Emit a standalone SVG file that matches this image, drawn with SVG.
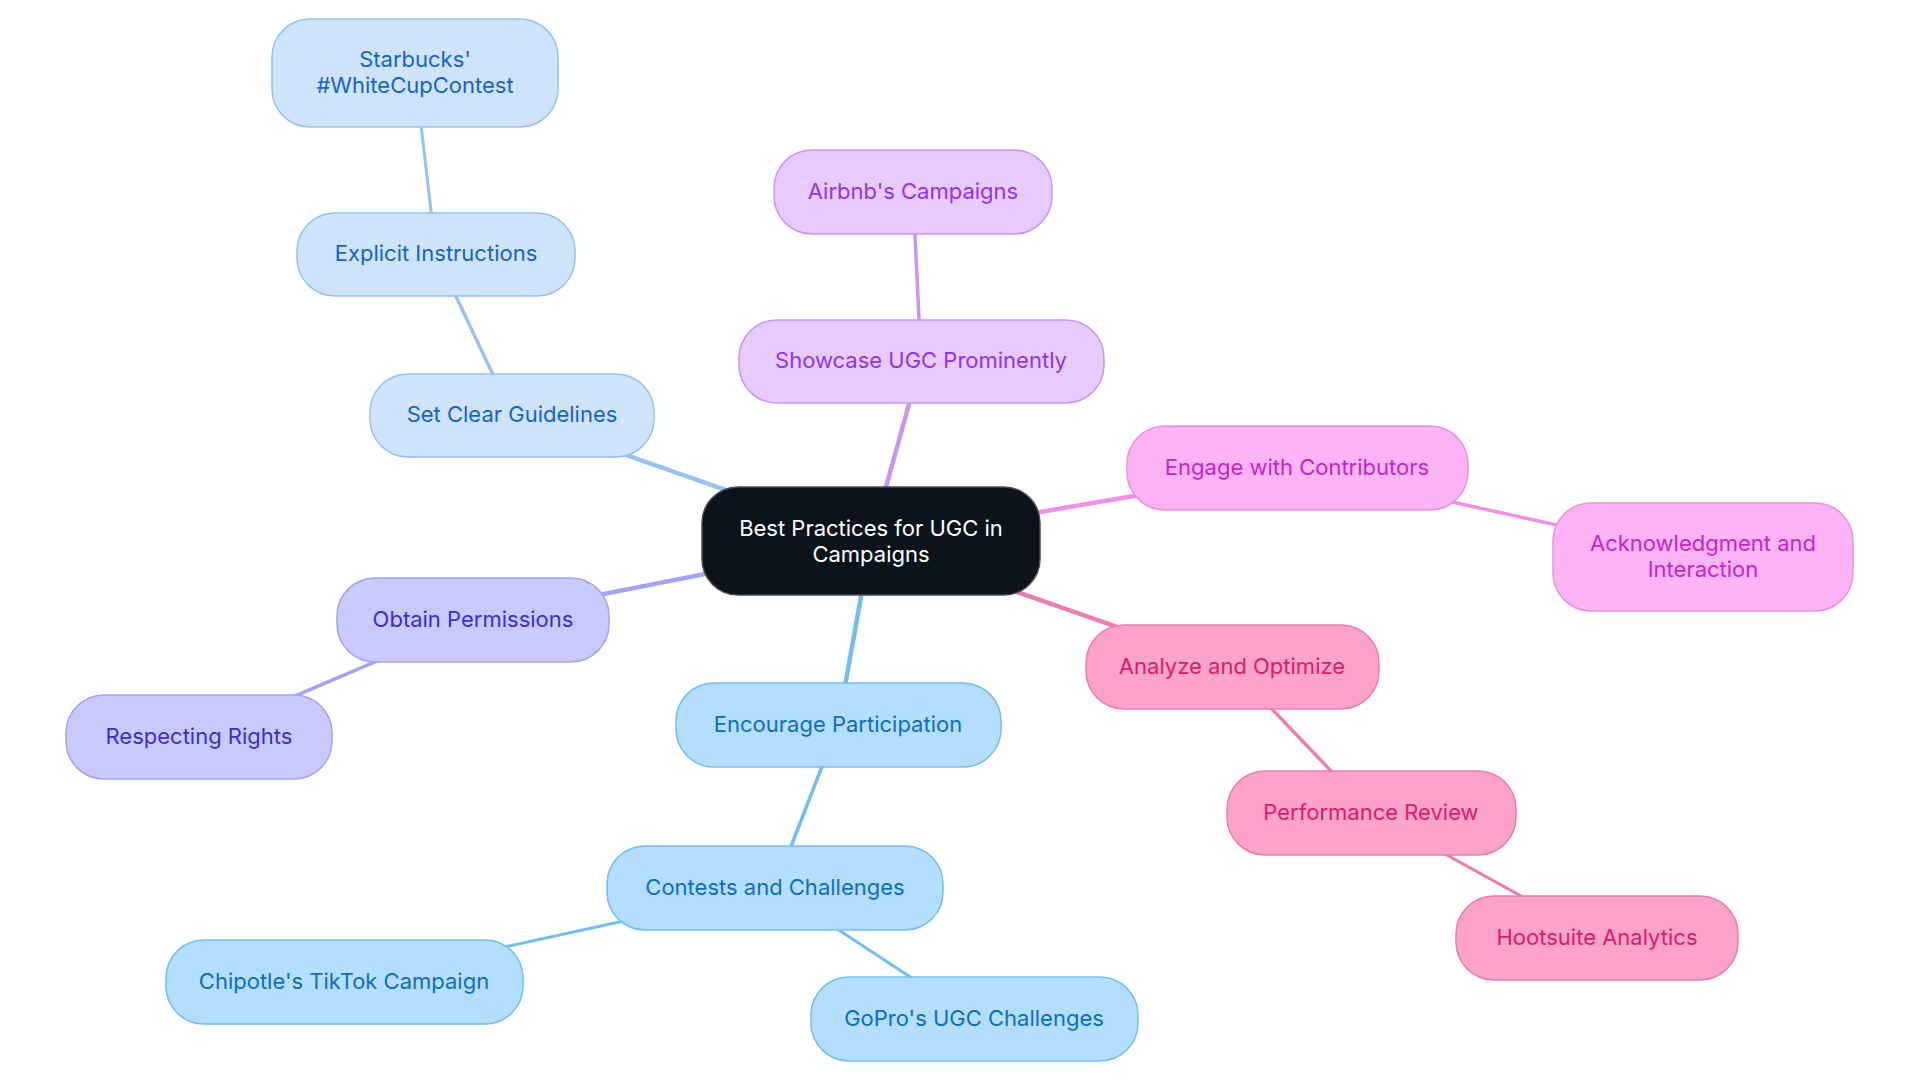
<svg xmlns="http://www.w3.org/2000/svg" width="1920" height="1083" viewBox="0 0 1920 1083">
<style>
text{font-family:Inter,"Liberation Sans",sans-serif;font-size:22px;text-anchor:middle}
.n rect{stroke-width:1.5}
.c0 rect{fill:#0d131b;stroke:#4a4f55}
.c0 text{fill:#ffffff}
.b1 rect{fill:#cfe3fb;stroke:#94c2f2}
.b1 text{fill:#1565c8}
.b2 rect{fill:#b3defd;stroke:#74bdef}
.b2 text{fill:#0e6ebf}
.pu rect{fill:#e8cbfd;stroke:#c895f3}
.pu text{fill:#9333ea}
.mg rect{fill:#fcb4f4;stroke:#f08de5}
.mg text{fill:#c424c8}
.pk rect{fill:#fca3cb;stroke:#ec7cb2}
.pk text{fill:#db1a6e}
.in rect{fill:#c9c9fd;stroke:#a3a2f4}
.in text{fill:#3b2fc9}
.e line{fill:none;stroke-linecap:round}
.d1{stroke-width:4.5}
.d2{stroke-width:3.5}
.d3{stroke-width:3}
</style>
<g id="connectors" class="e">
<line class="d1" x1="871" y1="541" x2="512" y2="415" stroke="#94c2f2"/>
<line class="d2" x1="512" y1="415" x2="436" y2="254" stroke="#94c2f2"/>
<line class="d3" x1="436" y1="254" x2="415" y2="73" stroke="#94c2f2"/>
<line class="d1" x1="871" y1="541" x2="921" y2="361" stroke="#c895f3"/>
<line class="d2" x1="921" y1="361" x2="913" y2="192" stroke="#c895f3"/>
<line class="d1" x1="871" y1="541" x2="1297" y2="468" stroke="#f08de5"/>
<line class="d2" x1="1297" y1="468" x2="1703" y2="557" stroke="#f08de5"/>
<line class="d1" x1="871" y1="541" x2="1232" y2="667" stroke="#ec7cb2"/>
<line class="d2" x1="1232" y1="667" x2="1371" y2="813" stroke="#ec7cb2"/>
<line class="d3" x1="1371" y1="813" x2="1597" y2="938" stroke="#ec7cb2"/>
<line class="d1" x1="871" y1="541" x2="473" y2="620" stroke="#a3a2f4"/>
<line class="d2" x1="473" y1="620" x2="199" y2="737" stroke="#a3a2f4"/>
<line class="d1" x1="871" y1="541" x2="838" y2="725" stroke="#74bdef"/>
<line class="d2" x1="838" y1="725" x2="775" y2="888" stroke="#74bdef"/>
<line class="d3" x1="775" y1="888" x2="344" y2="982" stroke="#74bdef"/>
<line class="d3" x1="775" y1="888" x2="974" y2="1019" stroke="#74bdef"/>
</g>
<g id="root" class="n c0"><rect x="702" y="487" width="338" height="108" rx="36"/><text x="871" y="536">Best Practices for UGC in</text><text x="871" y="562">Campaigns</text></g>
<g id="set-clear-guidelines" class="n b1"><rect x="370" y="374" width="284" height="83" rx="38"/><text x="512" y="422">Set Clear Guidelines</text></g>
<g id="explicit-instructions" class="n b1"><rect x="297" y="213" width="278" height="83" rx="38"/><text x="436" y="261">Explicit Instructions</text></g>
<g id="starbucks" class="n b1"><rect x="272" y="19" width="286" height="108" rx="38"/><text x="415" y="67">Starbucks'</text><text x="415" y="93">#WhiteCupContest</text></g>
<g id="showcase" class="n pu"><rect x="739" y="320" width="365" height="83" rx="38"/><text x="921" y="368">Showcase UGC Prominently</text></g>
<g id="airbnb" class="n pu"><rect x="774" y="150" width="278" height="84" rx="38"/><text x="913" y="199">Airbnb's Campaigns</text></g>
<g id="engage" class="n mg"><rect x="1127" y="426" width="341" height="84" rx="38"/><text x="1297" y="475">Engage with Contributors</text></g>
<g id="acknowledgment" class="n mg"><rect x="1553" y="503" width="300" height="108" rx="38"/><text x="1703" y="551">Acknowledgment and</text><text x="1703" y="577">Interaction</text></g>
<g id="analyze" class="n pk"><rect x="1086" y="625" width="293" height="84" rx="38"/><text x="1232" y="674">Analyze and Optimize</text></g>
<g id="performance" class="n pk"><rect x="1227" y="771" width="289" height="84" rx="38"/><text x="1371" y="820">Performance Review</text></g>
<g id="hootsuite" class="n pk"><rect x="1456" y="896" width="282" height="84" rx="38"/><text x="1597" y="945">Hootsuite Analytics</text></g>
<g id="obtain" class="n in"><rect x="337" y="578" width="272" height="84" rx="38"/><text x="473" y="627">Obtain Permissions</text></g>
<g id="respecting" class="n in"><rect x="66" y="695" width="266" height="84" rx="38"/><text x="199" y="744">Respecting Rights</text></g>
<g id="encourage" class="n b2"><rect x="676" y="683" width="325" height="84" rx="38"/><text x="838" y="732">Encourage Participation</text></g>
<g id="contests" class="n b2"><rect x="607" y="846" width="336" height="84" rx="38"/><text x="775" y="895">Contests and Challenges</text></g>
<g id="chipotle" class="n b2"><rect x="166" y="940" width="357" height="84" rx="38"/><text x="344" y="989">Chipotle's TikTok Campaign</text></g>
<g id="gopro" class="n b2"><rect x="811" y="977" width="327" height="84" rx="38"/><text x="974" y="1026">GoPro's UGC Challenges</text></g>
</svg>
